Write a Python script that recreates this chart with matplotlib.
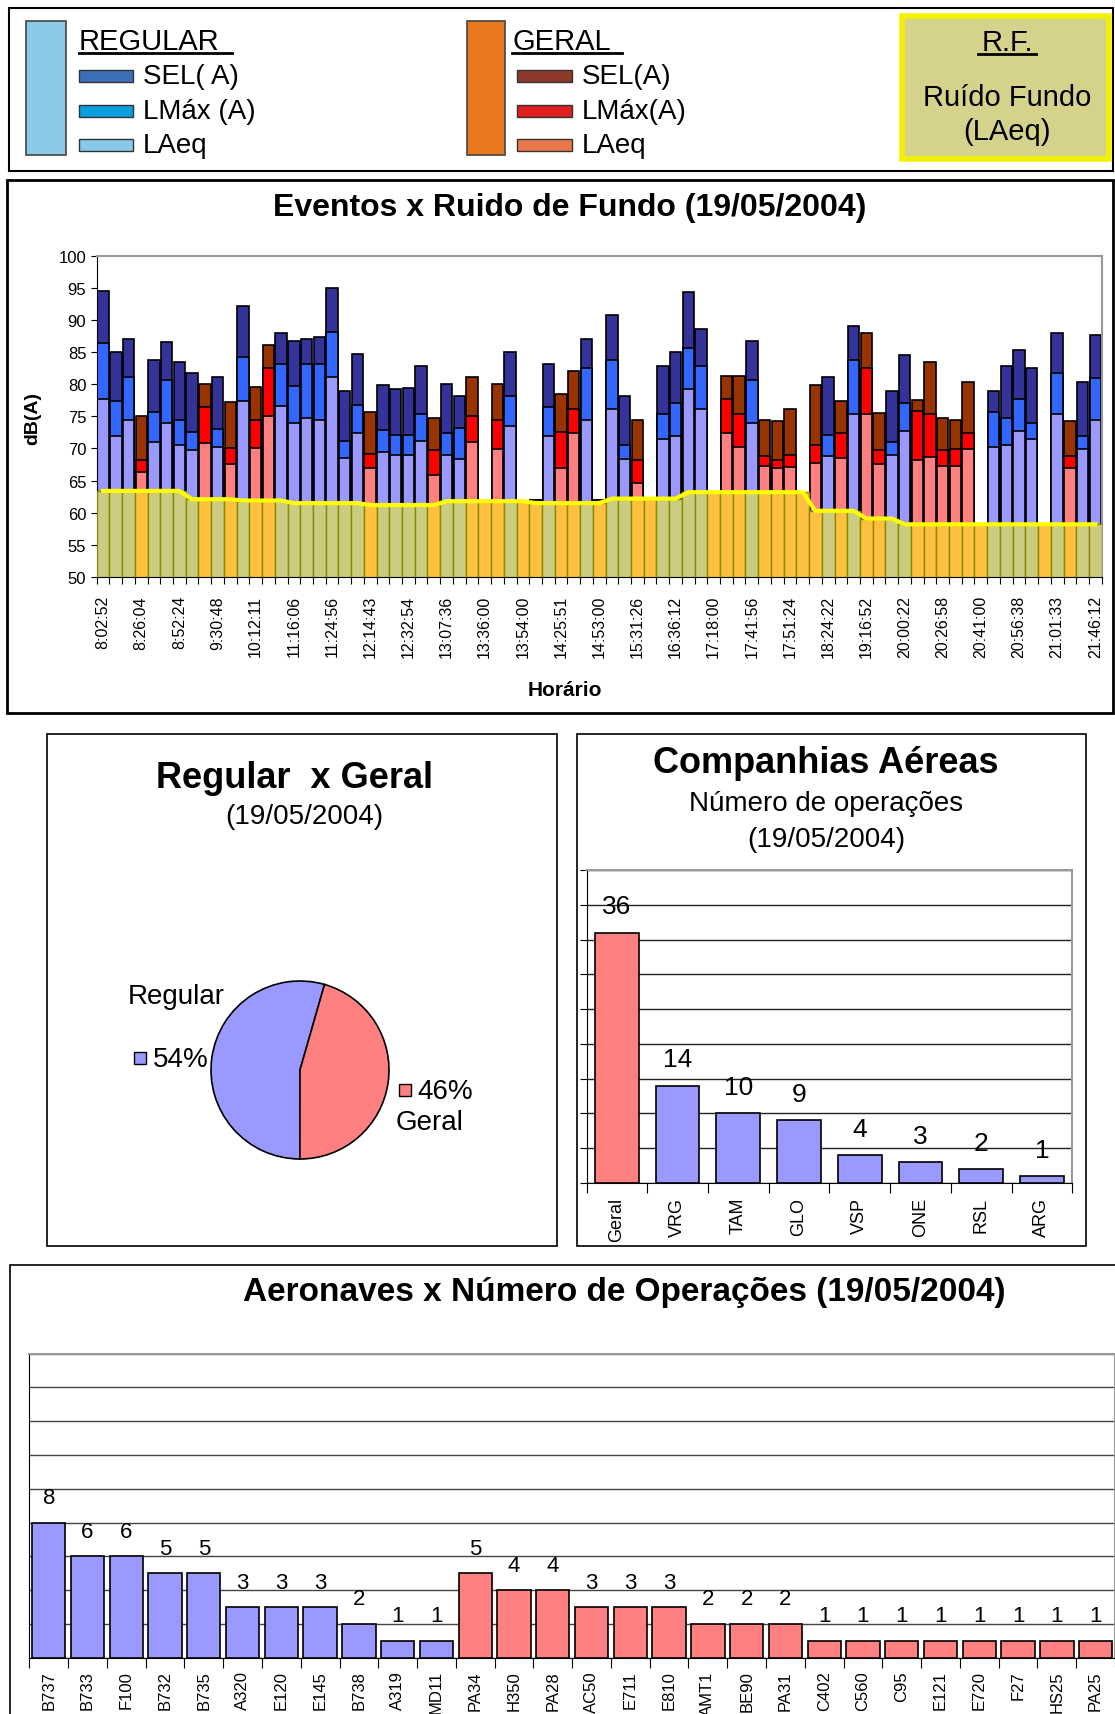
import matplotlib.pyplot as plt
from matplotlib.patches import Rectangle
from matplotlib.lines import Line2D
import numpy as np

plt.rcParams['font.family'] = ['Liberation Sans', 'DejaVu Sans']

W, H = 1115, 1715
nan = np.nan

# ---- Eventos x Ruido de Fundo ----
horarios = ['8:02:52', '8:26:04', '8:52:24', '9:30:48', '10:12:11', '11:16:06', '11:24:56',
            '12:14:43', '12:32:54', '13:07:36', '13:36:00', '13:54:00', '14:25:51', '14:53:00',
            '15:31:26', '16:36:12', '17:18:00', '17:41:56', '17:51:24', '18:24:22', '19:16:52',
            '20:00:22', '20:26:58', '20:41:00', '20:56:38', '21:01:33', '21:46:12']

# R = regular, G = geral
tipo = list("RRRGRRRRGR" "GRGGRRRRRR" "RGRRRRGRRG" "GGRGGRGGRG"
            "RRGGRRRRGG" "GRGGGGGRGR" "GGRRGGGGGG" "RRRRGRGRR")

laeq = [77.7, 72.0, 74.5, 66.4, 71.0, 74.0, 70.5, 69.8, 70.9, 70.3,
        67.6, 77.4, 70.0, 75.1, 76.6, 73.9, 74.7, 74.5, 81.1, 68.5,
        72.4, 67.0, 69.4, 69.0, 69.0, 71.1, 65.8, 69.0, 68.3, 71.0,
        nan, 69.9, 73.5, nan, 62.0, 72.0, 67.0, 72.4, 74.5, 62.0,
        76.2, 68.3, 64.6, nan, 71.5, 72.0, 79.3, 76.2, nan, 72.4,
        70.3, 74.0, 67.3, 67.0, 67.1, nan, 67.8, 68.8, 68.5, 75.4,
        75.4, 67.6, 69.0, 72.7, 68.2, 68.7, 67.3, 67.3, 69.9, nan,
        70.3, 70.5, 72.7, 71.5, nan, 75.4, 67.0, 69.9, 74.4]

lmax = [86.4, 77.4, 81.1, 68.2, 75.7, 80.7, 74.5, 72.5, 76.5, 73.0,
        70.0, 84.3, 74.5, 82.6, 83.1, 79.7, 83.1, 83.1, 88.2, 71.1,
        76.8, 69.1, 72.9, 72.1, 72.1, 75.4, 69.7, 72.4, 73.2, 75.1,
        nan, 74.5, 78.1, nan, 62.0, 76.5, 72.6, 76.2, 82.6, 62.0,
        83.8, 70.6, 68.2, nan, 75.4, 77.1, 85.6, 82.9, nan, 77.7,
        75.4, 80.7, 68.8, 68.2, 69.0, nan, 70.6, 72.1, 72.4, 83.8,
        82.6, 69.8, 71.0, 77.1, 75.9, 75.4, 69.7, 69.9, 72.4, nan,
        75.6, 74.7, 77.7, 73.9, nan, 81.8, 68.8, 72.0, 81.0]

sel = [94.5, 85.0, 87.1, 75.1, 83.8, 86.5, 83.4, 81.7, 80.1, 81.1,
       77.2, 92.1, 79.6, 86.1, 87.9, 86.8, 87.1, 87.4, 94.9, 79.0,
       84.7, 75.7, 79.9, 79.3, 79.4, 82.9, 74.8, 80.1, 78.2, 81.1,
       nan, 80.1, 85.0, nan, 62.0, 83.1, 78.5, 82.0, 87.0, 62.0,
       90.7, 78.1, 74.5, nan, 82.9, 85.0, 94.3, 88.6, nan, 81.3,
       81.3, 86.8, 74.5, 74.2, 76.2, nan, 79.9, 81.1, 77.4, 89.1,
       87.9, 75.5, 79.0, 84.5, 77.5, 83.4, 74.7, 74.5, 80.4, nan,
       79.0, 82.9, 85.3, 82.6, nan, 87.9, 74.2, 80.4, 87.7]

ruido_fundo = [63.4, 63.4, 63.4, 63.4, 63.4, 63.4, 63.4, 62.1, 62.1, 62.1,
               62.1, 61.9, 61.9, 61.9, 61.9, 61.5, 61.5, 61.5, 61.5, 61.5,
               61.5, 61.2, 61.2, 61.2, 61.2, 61.2, 61.2, 61.8, 61.8, 61.8,
               61.8, 61.8, 61.8, 61.8, 61.5, 61.5, 61.5, 61.5, 61.5, 61.5,
               62.2, 62.2, 62.2, 62.2, 62.2, 62.2, 63.2, 63.2, 63.2, 63.2,
               63.2, 63.2, 63.2, 63.2, 63.2, 63.2, 60.3, 60.3, 60.3, 60.3,
               59.1, 59.1, 59.1, 58.2, 58.2, 58.2, 58.2, 58.2, 58.2, 58.2,
               58.2, 58.2, 58.2, 58.2, 58.2, 58.2, 58.2, 58.2, 58.2]

# ---- Regular x Geral ----
pizza_labels = ['Regular', 'Geral']
pizza_ops = [43, 36]

# ---- Companhias ----
companhias = ['Geral', 'VRG', 'TAM', 'GLO', 'VSP', 'ONE', 'RSL', 'ARG']
ops_cia = [36, 14, 10, 9, 4, 3, 2, 1]

# ---- Aeronaves ----
aeronaves = ['B737', 'B733', 'F100', 'B732', 'B735', 'A320', 'E120', 'E145', 'B738', 'A319', 'MD11',
             'PA34', 'H350', 'PA28', 'AC50', 'E711', 'E810', 'AMT1', 'BE90', 'PA31', 'C402', 'C560',
             'C95', 'E121', 'E720', 'F27', 'HS25', 'PA25']
ops_aero = [8, 6, 6, 5, 5, 3, 3, 3, 2, 1, 1,
            5, 4, 4, 3, 3, 3, 2, 2, 2, 1, 1, 1, 1, 1, 1, 1, 1]
tipo_aero = ['R'] * 11 + ['G'] * 17

AZUL = '#9999FF'
ROSA = '#FF8080'
cor_reg = {'sel': '#333399', 'lmax': '#3366FF', 'laeq': '#9999FF'}
cor_ger = {'sel': '#993300', 'lmax': '#FF0000', 'laeq': '#FF8080'}

fig = plt.figure(figsize=(W / 100, H / 100), dpi=100)


def fx(x):
    return x / W


def fy(y):
    return 1 - y / H


def caixa(x0, y0, x1, y1, **kw):
    fig.add_artist(Rectangle((fx(x0), fy(y1)), (x1 - x0) / W, (y1 - y0) / H,
                             transform=fig.transFigure, **kw))


def sublinha(x0, x1, y, lw=2):
    fig.add_artist(Line2D([fx(x0), fx(x1)], [fy(y), fy(y)], transform=fig.transFigure,
                          color='black', lw=lw))


def eixos(x0, y0, x1, y1):
    return fig.add_axes([fx(x0), fy(y1), (x1 - x0) / W, (y1 - y0) / H])


# ---------------- legenda do topo ----------------
caixa(9, 9, 1113, 172, fc='white', ec='black', lw=1.5)
caixa(26, 22, 66, 156, fc='#8cc8e8', ec='#444444', lw=1.2)
fig.text(fx(79), fy(50), 'REGULAR', fontsize=21, va='baseline')
sublinha(79, 232, 54)
for yc, cor, txt in [(77, '#3b70b8', 'SEL( A)'), (112, '#0aa0de', 'LMáx (A)'), (146, '#88c8e8', 'LAeq')]:
    caixa(79, yc - 6, 133, yc + 6, fc=cor, ec='#333333', lw=1)
    fig.text(fx(143), fy(yc), txt, fontsize=20, va='center')

caixa(467, 22, 505, 156, fc='#e8781e', ec='#444444', lw=1.2)
fig.text(fx(512), fy(50), 'GERAL', fontsize=21, va='baseline')
sublinha(512, 622, 54)
for yc, cor, txt in [(77, '#8e3a2a', 'SEL(A)'), (112, '#e02020', 'LMáx(A)'), (146, '#e8784a', 'LAeq')]:
    caixa(517, yc - 6, 572, yc + 6, fc=cor, ec='#333333', lw=1)
    fig.text(fx(582), fy(yc), txt, fontsize=20, va='center')

caixa(902, 17, 1109, 160, fc='#d5d28c', ec='#f2f200', lw=4)
fig.text(fx(1007), fy(51), 'R.F.', fontsize=21, ha='center', va='baseline')
sublinha(978, 1036, 55)
fig.text(fx(1007), fy(98), 'Ruído Fundo', fontsize=21, ha='center', va='center')
fig.text(fx(1007), fy(132), '(LAeq)', fontsize=21, ha='center', va='center')

# ---------------- Eventos x Ruido de Fundo ----------------
caixa(7, 181, 1113, 714, fc='none', ec='black', lw=2)
fig.text(fx(570), fy(208), 'Eventos x Ruido de Fundo (19/05/2004)', fontsize=23,
         fontweight='bold', ha='center', va='center')
fig.text(fx(33), fy(419), 'dB(A)', fontsize=14, fontweight='bold', rotation=90,
         ha='center', va='center')
fig.text(fx(565), fy(691), 'Horário', fontsize=15, fontweight='bold', ha='center', va='center')

ax = eixos(96.7, 256.7, 1101.7, 578)
x = np.arange(len(tipo))
for campo, vals in [('sel', sel), ('lmax', lmax), ('laeq', laeq)]:
    cores = [cor_reg[campo] if t == 'R' else cor_ger[campo] for t in tipo]
    ax.bar(x, np.array(vals) - 50, bottom=50, width=0.9, color=cores,
           edgecolor='black', lw=1.2, zorder=2)
fundo_cores = ['#CCCC80' if t == 'R' else '#FFC040' for t in tipo]
ax.bar(x, np.array(ruido_fundo) - 50, bottom=50, width=1.0, color=fundo_cores,
       edgecolor='#8a8a00', lw=1, zorder=3)
ax.plot(x, ruido_fundo, color='#FFFF00', lw=3, zorder=4)

ax.set_xlim(-0.5, len(tipo) - 0.5)
ax.set_ylim(50, 100)
ax.set_yticks(range(50, 101, 5))
ax.tick_params(axis='y', labelsize=12, length=4, direction='out')
ax.set_xticks(np.arange(-0.5, len(tipo), 1))
ax.set_xticklabels([])
ax.set_xticks(np.arange(0, len(tipo), 3), horarios, minor=True)
ax.tick_params(axis='x', which='major', length=5)
ax.tick_params(axis='x', which='minor', length=0, labelsize=11.5, labelrotation=90, pad=13)
for s in ['top', 'right']:
    ax.spines[s].set_color('#999999')
    ax.spines[s].set_linewidth(1.5)

# ---------------- Regular x Geral ----------------
caixa(47, 735, 557, 1247, fc='none', ec='black', lw=1.2)
fig.text(fx(295), fy(779), 'Regular  x Geral', fontsize=26, fontweight='bold', ha='center', va='center')
fig.text(fx(304), fy(817), '(19/05/2004)', fontsize=20, ha='center', va='center')

r = 89
axp = eixos(300 - 1.1 * r, 1071 - 1.1 * r, 300 + 1.1 * r, 1071 + 1.1 * r)
axp.pie(pizza_ops, colors=[AZUL, ROSA], startangle=74, counterclock=True,
        wedgeprops=dict(edgecolor='black', linewidth=1.2))
axp.set_xlim(-1.1, 1.1)
axp.set_ylim(-1.1, 1.1)
axp.set_aspect('equal')
axp.axis('off')

total = sum(pizza_ops)
pct = [f'{round(100 * v / total)}%' for v in pizza_ops]
fig.text(fx(128), fy(997), pizza_labels[0], fontsize=20, va='center')
caixa(134, 1053, 146, 1065, fc=AZUL, ec='black', lw=1)
fig.text(fx(153), fy(1060), pct[0], fontsize=20, va='center')
caixa(399, 1085, 411, 1097, fc=ROSA, ec='black', lw=1)
fig.text(fx(417), fy(1092), pct[1], fontsize=20, va='center')
fig.text(fx(396), fy(1123), pizza_labels[1], fontsize=20, va='center')

# ---------------- Companhias Aereas ----------------
caixa(577, 735, 1086, 1247, fc='none', ec='black', lw=1.2)
fig.text(fx(826), fy(764), 'Companhias Aéreas', fontsize=26, fontweight='bold', ha='center', va='center')
fig.text(fx(826), fy(804), 'Número de operações', fontsize=20, ha='center', va='center')
fig.text(fx(826), fy(840), '(19/05/2004)', fontsize=20, ha='center', va='center')

axc = eixos(586.5, 871, 1072.3, 1184)
xc = np.arange(len(companhias))
axc.bar(xc, ops_cia, width=0.72, color=[ROSA] + [AZUL] * (len(companhias) - 1),
        edgecolor='black', lw=1.2, zorder=3)
for i, v in enumerate(ops_cia):
    axc.annotate(str(v), (i, v), xytext=(0, 19), textcoords='offset points',
                 ha='center', va='center', fontsize=19)
axc.set_xlim(-0.5, len(companhias) - 0.5)
axc.set_ylim(0, 45)
axc.set_yticks(range(0, 46, 5))
axc.set_yticklabels([])
axc.yaxis.grid(True, color='#222222', lw=1)
axc.set_axisbelow(True)
axc.set_xticks(np.arange(-0.5, len(companhias), 1))
axc.set_xticklabels([])
axc.set_xticks(xc, companhias, minor=True)
axc.tick_params(axis='x', which='major', length=7)
axc.tick_params(axis='x', which='minor', length=0, labelsize=13, labelrotation=90, pad=10)
axc.tick_params(axis='y', length=5)
for s in ['top', 'right']:
    axc.spines[s].set_color('#999999')
    axc.spines[s].set_linewidth(1.5)

# ---------------- Aeronaves ----------------
caixa(10, 1266, 1130, 1730, fc='none', ec='black', lw=1.2)
fig.text(fx(624), fy(1293), 'Aeronaves x Número de Operações (19/05/2004)', fontsize=24,
         fontweight='bold', ha='center', va='center')

axa = eixos(29.3, 1354.6, 1115, 1658.8)
xa = np.arange(len(aeronaves))
axa.bar(xa, ops_aero, width=0.86, color=[AZUL if t == 'R' else ROSA for t in tipo_aero],
        edgecolor='black', lw=1.2, zorder=3)
for i, v in enumerate(ops_aero):
    axa.annotate(str(v), (i, v), xytext=(0, 18), textcoords='offset points',
                 ha='center', va='center', fontsize=16)
axa.set_xlim(-0.5, len(aeronaves) - 0.5)
axa.set_ylim(0, 18)
axa.set_yticks(range(0, 19, 2))
axa.set_yticklabels([])
axa.yaxis.grid(True, color='#444444', lw=1)
axa.set_axisbelow(True)
axa.set_xticks(np.arange(-0.5, len(aeronaves), 1))
axa.set_xticklabels([])
axa.set_xticks(xa, aeronaves, minor=True)
axa.tick_params(axis='x', which='major', length=7)
axa.tick_params(axis='x', which='minor', length=0, labelsize=12, labelrotation=90, pad=9)
axa.tick_params(axis='y', length=0)
for s in ['top', 'right']:
    axa.spines[s].set_color('#999999')
    axa.spines[s].set_linewidth(1.5)

fig.savefig('out.png', dpi=100)
